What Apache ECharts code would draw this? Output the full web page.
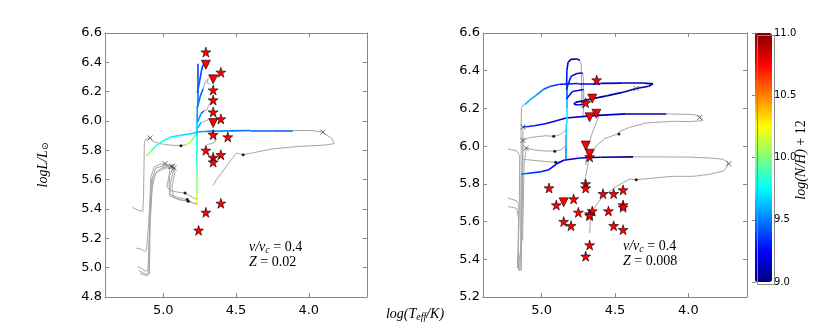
<!DOCTYPE html>
<html>
<head>
<meta charset="utf-8">
<script src="https://cdn.jsdelivr.net/npm/echarts@6/dist/echarts.min.js"></script>
<style>
  html, body { margin: 0; padding: 0; background: #fff; }
  #chart { width: 830px; height: 332px; }
</style>
</head>
<body>
<div id="chart"></div>
<script>
// ---- data: [logTeff, logL] (colored paths carry log(N/H)+12 as 3rd value)
const xTicks = [4.0, 4.5, 5.0];
const cbTicks = [9.0, 9.5, 10.0, 10.5, 11.0];

// left panel, Z = 0.02
const leftGray = [
  [[5.21,5.41],[5.17,5.39],[5.14,5.385],[5.135,5.5],[5.132,5.7],[5.13,5.85],[5.12,5.875],[5.09,5.884],[5.07,5.86],[5.02,5.845],[4.95,5.835],[4.878,5.832],[4.84,5.838]],
  [[4.11,5.935],[3.98,5.935],[3.904,5.924],[3.84,5.88],[3.825,5.845],[3.9,5.835],[4.064,5.827],[4.25,5.81],[4.40,5.78],[4.451,5.77],[4.497,5.782],[4.53,5.74],[4.566,5.691],[4.634,5.6],[4.657,5.561]],
  [[5.186,5.134],[5.15,5.125],[5.13,5.11],[5.115,5.12],[5.10,5.3],[5.09,5.5],[5.085,5.62],[5.06,5.69],[5.02,5.705],[4.987,5.709],[4.965,5.70],[4.955,5.66],[4.965,5.60],[4.975,5.55],[4.95,5.525],[4.90,5.515],[4.85,5.509],[4.80,5.48],[4.77,5.465]],
  [[5.177,5.009],[5.15,4.995],[5.12,4.975],[5.105,4.98],[5.10,5.1],[5.09,5.4],[5.08,5.6],[5.05,5.68],[4.99,5.695],[4.946,5.691],[4.935,5.67],[4.955,5.63],[4.96,5.57],[4.955,5.50],[4.90,5.48],[4.835,5.464],[4.80,5.445],[4.77,5.43]],
  [[5.168,4.98],[5.14,4.965],[5.115,4.955],[5.10,4.96],[5.095,5.2],[5.085,5.45],[5.07,5.62],[5.02,5.675],[4.97,5.69],[4.935,5.691],[4.93,5.66],[4.95,5.58],[4.955,5.49],[4.90,5.465],[4.828,5.452],[4.79,5.44],[4.768,5.436]],
  [[5.16,4.962],[5.13,4.95],[5.11,4.945],[5.095,4.96],[5.09,5.3],[5.075,5.55],[5.05,5.65],[4.98,5.68],[4.926,5.68],[4.92,5.65],[4.94,5.55],[4.93,5.48],[4.87,5.46],[4.83,5.455]],
  [[4.726,6.384],[4.70,6.398],[4.69,6.38]],
  [[4.726,6.22],[4.71,6.27],[4.69,6.29],[4.70,6.26],[4.68,6.25]],
  [[4.72,6.07],[4.70,6.075],[4.69,6.10],[4.68,6.12]],
  [[4.74,5.99],[4.71,6.0],[4.69,6.01]],
  [[4.75,5.93],[4.70,5.925],[4.66,5.92],[4.64,5.895],[4.645,5.855],[4.67,5.845],[4.70,5.84]]
];
const leftColored = [
  [[5.117,5.764,10.15],[5.10,5.775,10.05],[5.08,5.80,9.95],[5.05,5.83,9.85],[5.00,5.865,9.8],[4.95,5.89,9.75],[4.87,5.905,9.7],[4.80,5.915,9.65],[4.766,5.925,9.6],[4.70,5.93,9.55],[4.55,5.933,9.5],[4.40,5.935,9.45],[4.25,5.935,9.42],[4.11,5.935,9.4]],
  [[4.84,5.838,10.2],[4.81,5.86,10.1],[4.785,5.895,9.9],[4.766,5.915,9.8]],
  [[4.766,5.43,10.35],[4.768,5.46,10.2],[4.77,5.50,10.1],[4.77,5.6,10.0],[4.77,5.7,9.9],[4.769,5.8,9.8],[4.768,5.9,9.7],[4.767,6.0,9.6],[4.766,6.1,9.5],[4.766,6.2,9.45],[4.764,6.3,9.4],[4.763,6.39,9.35]],
  [[4.766,6.19,9.45],[4.75,6.27,9.4],[4.738,6.34,9.38],[4.726,6.384,9.35]],
  [[4.766,6.09,9.5],[4.745,6.17,9.45],[4.726,6.22,9.4]],
  [[4.766,5.99,9.6],[4.74,6.05,9.5],[4.72,6.07,9.45]],
  [[4.766,5.95,9.65],[4.74,5.99,9.55]]
];
const leftCrosses = [[5.09,5.884],[4.987,5.709],[4.946,5.691],[4.935,5.691],[4.926,5.68],[3.904,5.924]];
const leftDots = [[4.878,5.832],[4.451,5.77],[4.85,5.509],[4.835,5.464],[4.828,5.452]];
const leftStars = [[4.707,6.47],[4.604,6.332],[4.657,6.211],[4.657,6.143],[4.657,6.061],[4.604,6.014],[4.657,5.907],[4.556,5.891],[4.707,5.80],[4.604,5.77],[4.657,5.752],[4.657,5.72],[4.604,5.439],[4.707,5.377],[4.757,5.255]];
const leftTriangles = [[4.707,6.384],[4.657,6.284],[4.657,5.986]];

// right panel, Z = 0.008
const rightGray = [
  [[5.23,5.985],[5.17,5.975],[5.15,5.95],[5.152,5.7],[5.16,5.42],[5.165,5.37],[5.16,5.354],[5.148,5.36],[5.143,5.45],[5.14,5.8],[5.14,6.1],[5.138,6.2],[5.13,6.215],[5.116,6.22]],
  [[5.23,5.68],[5.17,5.67],[5.158,5.62],[5.16,5.40],[5.155,5.34],[5.14,5.345],[5.135,5.6],[5.13,5.9],[5.128,6.05],[5.127,6.102]],
  [[4.15,6.171],[3.968,6.168],[3.93,6.16],[3.923,6.15],[3.90,6.135],[4.0,6.13],[4.105,6.132],[4.286,6.123],[4.40,6.10],[4.468,6.078],[4.473,6.064],[4.50,6.06],[4.57,6.04],[4.63,6.0],[4.68,5.92],[4.70,5.84],[4.71,5.80]],
  [[4.70,5.90],[4.69,5.98],[4.66,6.06],[4.63,6.12],[4.61,6.16],[4.625,6.175]],
  [[5.14,5.34],[5.135,5.6],[5.13,5.9],[5.127,6.031],[5.08,6.045],[5.036,6.05],[4.97,6.055],[4.918,6.052],[4.88,6.06],[4.85,6.075],[4.835,6.09]],
  [[5.13,5.5],[5.12,5.9],[5.105,5.99],[5.05,5.98],[4.99,5.975],[4.911,5.973],[4.87,5.98],[4.84,6.0]],
  [[5.127,5.93],[5.06,5.925],[4.95,5.917],[4.905,5.914],[4.86,5.92],[4.835,5.93]],
  [[5.23,5.725],[5.17,5.71],[5.155,5.69],[5.16,5.45],[5.165,5.355],[5.15,5.345],[5.14,5.5],[5.139,5.852]],
  [[4.377,5.943],[4.2,5.943],[4.0,5.942],[3.85,5.937],[3.764,5.93],[3.73,5.915],[3.723,5.907],[3.74,5.885],[3.764,5.867],[3.86,5.85],[3.968,5.84],[4.105,5.84],[4.25,5.83],[4.355,5.822],[4.40,5.825],[4.491,5.787],[4.582,5.734],[4.65,5.663],[4.668,5.61],[4.673,5.54]],
  [[4.74,6.455],[4.73,6.43],[4.728,6.3],[4.725,6.2]],
  [[4.72,6.388],[4.715,6.35],[4.718,6.25]],
  [[4.714,6.30],[4.712,6.22],[4.72,6.15]],
  [[4.72,6.222],[4.70,6.229],[4.69,6.215]]
];
const rightColored = [
  [[5.116,6.22,9.65],[5.08,6.245,9.6],[5.036,6.27,9.55],[4.99,6.30,9.45],[4.94,6.318,9.4],[4.877,6.328,9.3],[4.75,6.332,9.25],[4.6,6.333,9.2],[4.45,6.334,9.15],[4.3,6.334,9.1],[4.241,6.33,9.1],[4.27,6.318,9.1],[4.355,6.306,9.1],[4.45,6.285,9.1],[4.55,6.268,9.1],[4.65,6.252,9.1],[4.72,6.24,9.1],[4.77,6.232,9.1],[4.78,6.222,9.1],[4.75,6.218,9.1],[4.72,6.222,9.1]],
  [[5.127,6.102,9.4],[5.105,6.103,9.35],[5.05,6.108,9.3],[4.968,6.12,9.25],[4.9,6.135,9.2],[4.832,6.149,9.2],[4.65,6.162,9.15],[4.423,6.171,9.1],[4.15,6.171,9.05]],
  [[5.139,5.852,9.5],[5.10,5.855,9.4],[5.0,5.865,9.3],[4.95,5.875,9.25],[4.90,5.905,9.2],[4.85,5.925,9.15],[4.741,5.937,9.1],[4.6,5.941,9.05],[4.377,5.943,9.05]],
  [[4.835,5.93,9.5],[4.834,6.0,9.55],[4.833,6.06,9.65],[4.832,6.12,9.75],[4.832,6.2,9.7],[4.831,6.25,9.5],[4.83,6.32,9.35],[4.828,6.40,9.25],[4.82,6.445,9.15],[4.80,6.46,9.1],[4.76,6.462,9.1],[4.74,6.455,9.1]],
  [[4.832,6.30,9.35],[4.80,6.37,9.25],[4.76,6.385,9.2],[4.72,6.388,9.15]],
  [[4.832,6.25,9.35],[4.79,6.29,9.25],[4.714,6.30,9.2]]
];
const rightCrosses = [[5.127,6.102],[5.127,6.031],[5.105,5.99],[4.355,6.306],[3.923,6.152],[3.723,5.907]];
const rightDots = [[4.918,6.052],[4.911,5.973],[4.905,5.914],[4.473,6.064],[4.355,5.822],[4.707,6.229]];
const rightStars = [[4.625,6.351],[4.70,6.23],[4.673,5.943],[4.70,5.80],[4.70,5.778],[4.95,5.778],[4.582,5.748],[4.509,5.748],[4.445,5.768],[4.782,5.72],[4.90,5.688],[4.445,5.688],[4.445,5.676],[4.75,5.649],[4.655,5.656],[4.673,5.64],[4.673,5.631],[4.545,5.656],[4.85,5.60],[4.80,5.578],[4.509,5.578],[4.445,5.557],[4.673,5.476],[4.70,5.416]];
const rightTriangles = [[4.655,6.252],[4.627,6.172],[4.673,6.153],[4.70,6.003],[4.673,5.96],[4.85,5.702]];

// jet colormap, 9..11
function jet(v) {
  const t = (v - 9) / 2;
  const f = a => Math.round(255 * Math.max(0, Math.min(1, 1.5 - Math.abs(4 * t - a))));
  return 'rgb(' + f(3) + ',' + f(2) + ',' + f(1) + ')';
}
const jetStops = ['#000080', '#0000ff', '#0080ff', '#00ffff', '#80ff80', '#ffff00', '#ff8000', '#ff0000', '#800000'];

const STAR = 'path://M50,0L61,35L98,35L68,57L79,91L50,70L21,91L32,57L2,35L39,35Z';
const CROSS = 'path://M0,0L10,10M10,0L0,10';

function panelSeries(gray, colored, crosses, dots, stars, tris, xi, yi) {
  const out = [];
  gray.forEach(tr => out.push({
    type: 'line', xAxisIndex: xi, yAxisIndex: yi, data: tr, symbol: 'none',
    lineStyle: { color: '#a6a6a6', width: 1 }, silent: true, z: 1
  }));
  const segs = [];
  colored.forEach(p => {
    for (let i = 0; i < p.length - 1; i++) {
      segs.push({
        coords: [[p[i][0], p[i][1]], [p[i + 1][0], p[i + 1][1]]],
        lineStyle: { color: jet((p[i][2] + p[i + 1][2]) / 2) }
      });
    }
  });
  out.push({
    type: 'lines', coordinateSystem: 'cartesian2d', xAxisIndex: xi, yAxisIndex: yi,
    data: segs, lineStyle: { width: 1.6, opacity: 1, curveness: 0 }, silent: true, z: 2
  });
  out.push({
    type: 'scatter', xAxisIndex: xi, yAxisIndex: yi, data: crosses, symbol: CROSS, symbolSize: 5,
    itemStyle: { color: 'none', borderColor: '#444', borderWidth: 0.8, opacity: 1 }, silent: true, z: 3
  });
  out.push({
    type: 'scatter', xAxisIndex: xi, yAxisIndex: yi, data: dots, symbol: 'circle', symbolSize: 3,
    itemStyle: { color: '#222', opacity: 1 }, silent: true, z: 3
  });
  out.push({
    type: 'scatter', xAxisIndex: xi, yAxisIndex: yi, data: stars, symbol: STAR, symbolSize: 10,
    itemStyle: { color: '#ff0000', borderColor: '#000', borderWidth: 0.6, opacity: 1 }, silent: true, z: 4
  });
  out.push({
    type: 'scatter', xAxisIndex: xi, yAxisIndex: yi, data: tris, symbol: 'triangle', symbolRotate: 180, symbolSize: 9,
    itemStyle: { color: '#ff0000', borderColor: '#000', borderWidth: 0.6, opacity: 1 }, silent: true, z: 4
  });
  return out;
}

function xAx(gridIndex, top) {
  return {
    type: 'value', gridIndex: gridIndex, min: 3.6, max: 5.4, inverse: true, position: top ? 'top' : 'bottom',
    axisLine: { show: true, onZero: false, lineStyle: { color: '#888' } },
    axisTick: { show: true, inside: true, length: 4, customValues: xTicks, lineStyle: { color: '#888' } },
    axisLabel: { show: !top, customValues: xTicks, formatter: v => v.toFixed(1), color: '#000', fontSize: 13, fontFamily: 'DejaVu Sans', margin: 7 },
    splitLine: { show: false }
  };
}
function yAx(gridIndex, min, right) {
  return {
    type: 'value', gridIndex: gridIndex, min: min, max: 6.6, interval: 0.2, position: right ? 'right' : 'left',
    axisLine: { show: true, onZero: false, lineStyle: { color: '#888' } },
    axisTick: { show: true, inside: true, length: 4, lineStyle: { color: '#888' } },
    axisLabel: { show: !right, formatter: v => v.toFixed(1), color: '#000', fontSize: 13, fontFamily: 'DejaVu Sans', margin: 3 },
    splitLine: { show: false }
  };
}

const serif = 'Liberation Serif';
const mathRich = {
  i: { fontFamily: serif, fontStyle: 'italic', fontSize: 14, color: '#000' },
  n: { fontFamily: serif, fontSize: 14, color: '#000' },
  s: { fontFamily: serif, fontStyle: 'italic', fontSize: 10, color: '#000', padding: [6, 0, 0, 0] },
  o: { fontFamily: 'DejaVu Sans', fontSize: 9, color: '#000', padding: [6, 0, 0, 0] }
};

const chart = echarts.init(document.getElementById('chart'), null, { renderer: 'canvas' });
const option = {
  backgroundColor: '#fff',
  animation: false,
  grid: [
    { left: 105, top: 33, width: 262, height: 264, show: false },
    { left: 483, top: 33, width: 264, height: 264, show: false },
    { left: 755, top: 33, width: 17, height: 249, show: false }
  ],
  xAxis: [
    xAx(0, false), xAx(0, true), xAx(1, false), xAx(1, true),
    { type: 'value', gridIndex: 2, show: false, min: 0, max: 1 }
  ],
  yAxis: [
    yAx(0, 4.8, false), yAx(0, 4.8, true), yAx(1, 5.2, false), yAx(1, 5.2, true),
    {
      type: 'value', gridIndex: 2, min: 9, max: 11, interval: 0.5, position: 'right',
      axisLine: { show: true, lineStyle: { color: '#888' } },
      axisTick: { show: true, inside: true, length: 3, lineStyle: { color: '#888' } },
      axisLabel: { formatter: v => v.toFixed(1), color: '#000', fontSize: 10, fontFamily: 'DejaVu Sans', margin: 2 },
      splitLine: { show: false }
    }
  ],
  visualMap: {
    type: 'continuous', min: 9, max: 11, seriesIndex: 0, calculable: false, show: true,
    left: 755, top: 33, itemWidth: 17, itemHeight: 249, text: null, showLabel: false,
    inRange: { color: jetStops }, outOfRange: { color: '#a2a2a2' }, padding: 0
  },
  graphic: [
    { type: 'rect', left: 755, top: 33, shape: { width: 17, height: 249 }, style: { fill: 'none', stroke: '#888', lineWidth: 1 }, z: 100 },
    { type: 'text', x: 43, y: 165, rotation: Math.PI / 2, style: { text: '{i|logL/L}{o|⊙}', rich: mathRich, align: 'center', verticalAlign: 'middle' } },
    { type: 'text', x: 415, y: 314, style: { text: '{i|log(T}{s|eff}{i|/K)}', rich: mathRich, align: 'center', verticalAlign: 'middle' } },
    { type: 'text', x: 801, y: 160, rotation: Math.PI / 2, style: { text: '{i|log(N/H)}{n| + 12}', rich: mathRich, align: 'center', verticalAlign: 'middle' } },
    { type: 'text', x: 249, y: 247, style: { text: '{i|v/v}{s|c}{n| = 0.4}', rich: mathRich, verticalAlign: 'middle' } },
    { type: 'text', x: 249, y: 262, style: { text: '{i|Z}{n| = 0.02}', rich: mathRich, verticalAlign: 'middle' } },
    { type: 'text', x: 623, y: 246, style: { text: '{i|v/v}{s|c}{n| = 0.4}', rich: mathRich, verticalAlign: 'middle' } },
    { type: 'text', x: 623, y: 261, style: { text: '{i|Z}{n| = 0.008}', rich: mathRich, verticalAlign: 'middle' } }
  ],
  series: [
    { type: 'scatter', xAxisIndex: 4, yAxisIndex: 4, data: [], silent: true }
  ].concat(
    panelSeries(leftGray, leftColored, leftCrosses, leftDots, leftStars, leftTriangles, 0, 0),
    panelSeries(rightGray, rightColored, rightCrosses, rightDots, rightStars, rightTriangles, 2, 2)
  )
};
chart.setOption(option);
</script>
</body>
</html>
